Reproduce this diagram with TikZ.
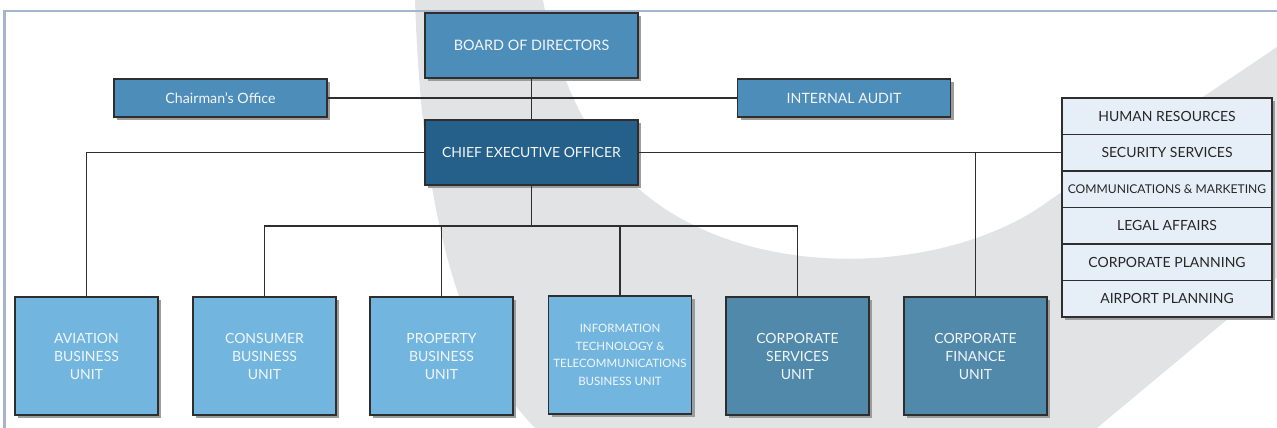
\documentclass[tikz,border=0pt]{standalone}
\usepackage{fontspec}
\setmainfont{Lato}
\usetikzlibrary{shadows}

\definecolor{bandgray}{HTML}{E2E3E5}
\definecolor{framecol}{HTML}{A5B4CA}
\definecolor{midblue}{HTML}{4D8DB9}
\definecolor{deepblue}{HTML}{24608A}
\definecolor{unitlight}{HTML}{72B6E0}
\definecolor{unitdark}{HTML}{5189AB}
\definecolor{sidefill}{HTML}{E6EFF8}
\definecolor{edgecol}{HTML}{2E2E2E}
\definecolor{shadowcol}{HTML}{9C9C9C}
\definecolor{lighttext}{HTML}{F3F6F9}
\definecolor{darktext}{HTML}{262626}

\tikzset{
  box/.style={draw=edgecol, line width=1.6pt, inner sep=0pt, align=center,
    drop shadow={shadow xshift=3pt, shadow yshift=-3pt, fill=shadowcol, opacity=1}},
  topbox/.style={box, fill=midblue, text=lighttext, minimum width=213pt,
    minimum height=65pt, font=\fontsize{14.4}{17}\selectfont},
  sidebox/.style={box, fill=midblue, text=lighttext, minimum width=213pt,
    minimum height=38pt, font=\fontsize{14.2}{17}\selectfont},
  unitbox/.style={box, fill=unitlight, text=lighttext, minimum width=143pt,
    minimum height=118pt, font=\fontsize{14}{18}\selectfont},
  staffrow/.style={box, fill=sidefill, text=darktext, minimum width=210pt,
    minimum height=36.5pt, line width=1.3pt, font=\fontsize{14}{16}\selectfont},
  link/.style={draw=edgecol, line width=1.3pt}
}

\begin{document}
\begin{tikzpicture}[x=1pt, y=-1pt]
\useasboundingbox (0,0) rectangle (1277,428);

% light grey swoosh behind the chart
\fill[bandgray] (415,0) .. controls (420,150) and (440,330) .. (535,428)
  -- (1097,428) -- (1277,278) -- (1277,47) -- (1050,200)
  .. controls (950,275) and (750,285) .. (640,190)
  .. controls (590,150) and (555,70) .. (543,0) -- cycle;

% page frame
\draw[framecol, line width=2.7pt] (4.5,428) -- (4.5,11) -- (1277,11);

% junction under the CEO
\coordinate (bus) at (531.5,226);

% top of the chart
\node[topbox] (board) at (531.5,45.5) {BOARD OF DIRECTORS};
\node[sidebox] (chair) at (220.5,98) {Chairman’s Office};
\node[sidebox] (audit) at (844,98) {INTERNAL AUDIT};
\node[topbox, fill=deepblue, font=\fontsize{14}{17}\selectfont] (ceo) at (531.5,152.5)
  {CHIEF EXECUTIVE OFFICER};

% business units
\node[unitbox] (avi) at (86.5,356) {AVIATION\\BUSINESS\\UNIT};
\node[unitbox] (cons) at (264.5,356) {CONSUMER\\BUSINESS\\UNIT};
\node[unitbox] (prop) at (441.5,356) {PROPERTY\\BUSINESS\\UNIT};
\node[unitbox, font=\fontsize{11.5}{17.7}\selectfont] (it) at (620,355)
  {INFORMATION\\TECHNOLOGY \&\\TELECOMMUNICATIONS\\BUSINESS UNIT};
\node[unitbox, fill=unitdark] (serv) at (797.5,356) {CORPORATE\\SERVICES\\UNIT};
\node[unitbox, fill=unitdark] (fin) at (975.5,356) {CORPORATE\\FINANCE\\UNIT};

% staff functions column
\node[staffrow] (hr)  at (1167,116.25) {HUMAN RESOURCES};
\node[staffrow] (sec) at (1167,152.75) {SECURITY SERVICES};
\node[staffrow, font=\fontsize{12.1}{14}\selectfont] (com) at (1167,189.25)
  {COMMUNICATIONS \& MARKETING};
\node[staffrow] (leg) at (1167,225.75) {LEGAL AFFAIRS};
\node[staffrow] (cpl) at (1167,262.25) {CORPORATE PLANNING};
\node[staffrow] (apl) at (1167,298.75) {AIRPORT PLANNING};

% reporting lines
\draw[link] (board.south) -- (ceo.north);
\draw[link] (chair.east) -- (audit.west);
\draw[link] (ceo.west) -| (avi.north);
\draw[link] (ceo.east) -- (ceo.east -| sec.west);
\draw[link] (ceo.east -| fin.north) -- (fin.north);
\draw[link] (ceo.south) -- (bus);
\draw[link] (cons.north) |- (serv.north |- bus) -- (serv.north);
\draw[link] (prop.north) -- (prop.north |- bus);
\draw[link] (it.north) -- (it.north |- bus);
\end{tikzpicture}
\end{document}
